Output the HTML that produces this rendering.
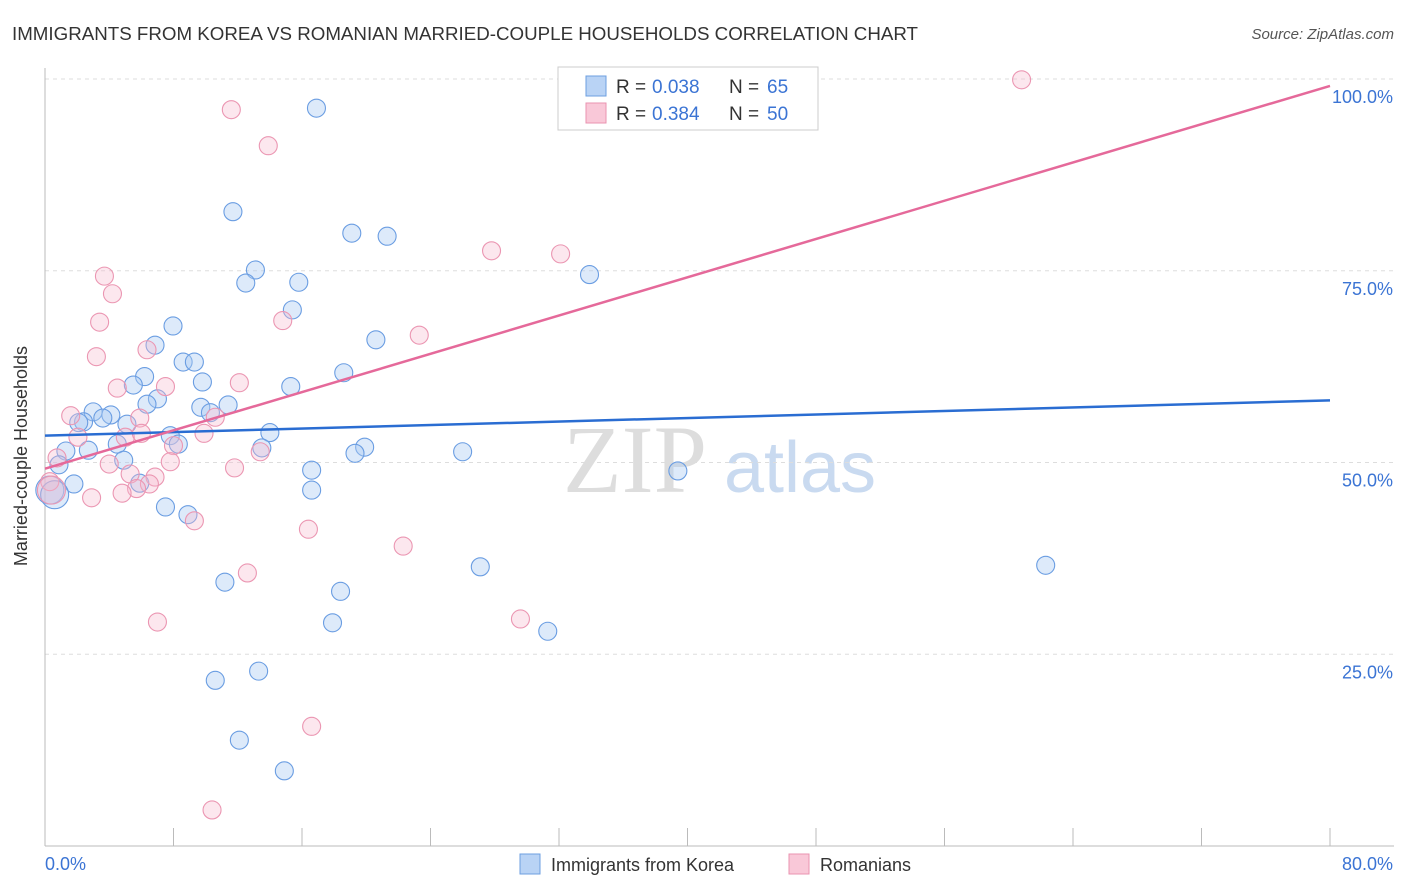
<!DOCTYPE html>
<html><head><meta charset="utf-8"><style>
body{margin:0;background:#fff;font-family:"Liberation Sans",sans-serif;}
svg{display:block}
</style></head><body>
<svg width="1406" height="892">
<text x="12" y="40" font-size="18" fill="#333" textLength="906" lengthAdjust="spacingAndGlyphs">IMMIGRANTS FROM KOREA VS ROMANIAN MARRIED-COUPLE HOUSEHOLDS CORRELATION CHART</text>
<text x="1394" y="39" font-size="15" fill="#555" font-style="italic" text-anchor="end">Source: ZipAtlas.com</text>
<text x="27" y="456" font-size="18" fill="#333" text-anchor="middle" transform="rotate(-90 27 456)">Married-couple Households</text>
<g><text x="635" y="492" font-size="96" fill="#ddd" font-family="Liberation Serif,serif" text-anchor="middle">ZIP</text><text x="800" y="492" font-size="72" fill="#c9daf0" text-anchor="middle">atlas</text></g>
<g id="grid"></g><g id="axes"></g><g id="pts"></g><g id="trend"></g>
<g>
<rect x="558" y="67" width="260" height="63" fill="#fff" stroke="#ccc"/>
<rect x="586" y="76" width="20" height="20" fill="#b9d3f5" stroke="#6d9fe0"/>
<rect x="586" y="103" width="20" height="20" fill="#f9c8d8" stroke="#ea93b0"/>
<text x="616" y="93" font-size="19" fill="#333">R =</text>
<text x="652" y="93" font-size="19" fill="#3b74d4">0.038</text>
<text x="729" y="93" font-size="19" fill="#333">N =</text>
<text x="767" y="93" font-size="19" fill="#3b74d4">65</text>
<text x="616" y="120" font-size="19" fill="#333">R =</text>
<text x="652" y="120" font-size="19" fill="#3b74d4">0.384</text>
<text x="729" y="120" font-size="19" fill="#333">N =</text>
<text x="767" y="120" font-size="19" fill="#3b74d4">50</text>
</g>
<g>
<rect x="520" y="854" width="20" height="20" fill="#b9d3f5" stroke="#6d9fe0"/>
<text x="551" y="871" font-size="18" fill="#333">Immigrants from Korea</text>
<rect x="789" y="854" width="20" height="20" fill="#f9c8d8" stroke="#ea93b0"/>
<text x="820" y="871" font-size="18" fill="#333">Romanians</text>
</g>
</svg>
<script>
const yTicks=[25,50,75,100];
const yTickLabels=["25.0%","50.0%","75.0%","100.0%"];
const xTickCount=10;
const xLabels=["0.0%","80.0%"];
const koreaX=[16.9,11.7,19.1,21.3,13.1,33.9,12.5,15.8,15.4,7.97,20.6,6.85,8.6,9.3,18.6,6.2,9.8,5.5,15.3,7.0,6.35,9.7,11.4,3.0,4.1,3.6,10.3,2.4,2.1,5.1,7.8,14.0,8.3,4.5,19.9,1.3,2.7,13.5,19.3,26.0,4.9,0.87,16.6,39.4,5.9,1.8,0.3,16.6,0.6,7.5,8.9,27.1,62.3,11.2,18.4,17.9,31.3,13.3,10.6,12.1,14.9];
const koreaY=[96.2,82.7,79.9,79.5,75.1,74.5,73.4,73.5,69.9,67.8,66.0,65.3,63.1,63.1,61.7,61.2,60.5,60.1,59.9,58.3,57.6,57.2,57.5,56.6,56.2,55.8,56.5,55.3,55.2,55.0,53.5,53.9,52.4,52.4,52.0,51.5,51.6,51.9,51.2,51.4,50.3,49.7,49.0,48.9,47.3,47.2,46.4,46.4,45.8,44.2,43.2,36.4,36.6,34.4,33.2,29.1,28.0,22.8,21.6,13.8,9.8];
const romX=[60.8,11.6,13.9,27.8,32.1,3.7,4.2,3.4,14.8,23.3,3.2,6.35,4.5,7.5,12.1,1.6,5.9,10.6,5.0,6.0,9.9,2.05,8.0,13.4,0.75,7.8,4.0,11.8,5.3,6.85,6.5,0.3,5.7,4.8,2.9,0.4,9.3,16.4,22.3,12.6,7.0,29.6,16.6,10.4];
const romY=[99.9,96.0,91.3,77.6,77.2,74.3,72.0,68.3,68.5,66.6,63.8,64.7,59.7,59.9,60.4,56.1,55.8,55.9,53.3,53.8,53.8,53.3,52.2,51.4,50.6,50.1,49.8,49.3,48.5,48.1,47.2,47.5,46.6,46.0,45.4,46.4,42.4,41.3,39.1,35.6,29.2,29.6,15.6,4.7];
const koreaTrend=[53.5,58.1];
const romTrend=[49.2,99.1];
const NS="http://www.w3.org/2000/svg";
const X=v=>45+v/80*1285, Y=v=>846-v/100*767;
function mk(p,t,a){const e=document.createElementNS(NS,t);for(const k in a)e.setAttribute(k,a[k]);document.getElementById(p).appendChild(e);return e;}
yTicks.forEach((t,i)=>{
 const l=mk('grid','line',{x1:45,x2:1394,y1:Y(t),y2:Y(t),stroke:'#ddd','stroke-dasharray':'4 4'});
 
 
 const tx=mk('grid','text',{x:1393,y:Y(t)+24,'font-size':18,fill:'#3b74d4','text-anchor':'end'});tx.textContent=yTickLabels[i];
 
 
});
const ax=mk('axes','line',{x1:45,x2:45,y1:68,y2:846,stroke:'#bbb'});


const bx=mk('axes','line',{x1:45,x2:1394,y1:846,y2:846,stroke:'#bbb'});


for(let i=0;i<=xTickCount;i++){const t=mk('axes','line',{x1:X(i*8),x2:X(i*8),y1:828,y2:846,stroke:'#bbb'});
 
 }
const xl0=mk('axes','text',{x:45,y:870,'font-size':18,fill:'#3b74d4'});xl0.textContent=xLabels[0];


const xl1=mk('axes','text',{x:1393,y:870,'font-size':18,fill:'#3b74d4','text-anchor':'end'});xl1.textContent=xLabels[1];


function pts(xs,ys,fill,stroke,name){xs.forEach((x,i)=>{const big=x<1&&ys[i]<47;
 const c=mk('pts','circle',{cx:X(x),cy:Y(ys[i]),r:big?14:9,fill:fill,stroke:stroke,'stroke-width':1.1});
 
 });}
pts(koreaX,koreaY,'rgba(170,202,242,0.4)','#6a9de2','korea-point');
pts(romX,romY,'rgba(246,185,205,0.35)','#eb96b2','romanian-point');
const t1=mk('trend','line',{x1:X(0),x2:X(80),y1:Y(koreaTrend[0]),y2:Y(koreaTrend[1]),stroke:'#2a6dd2','stroke-width':2.5});


const t2=mk('trend','line',{x1:X(0),x2:X(80),y1:Y(romTrend[0]),y2:Y(romTrend[1]),stroke:'#e5699a','stroke-width':2.5});


</script>
</body></html>
